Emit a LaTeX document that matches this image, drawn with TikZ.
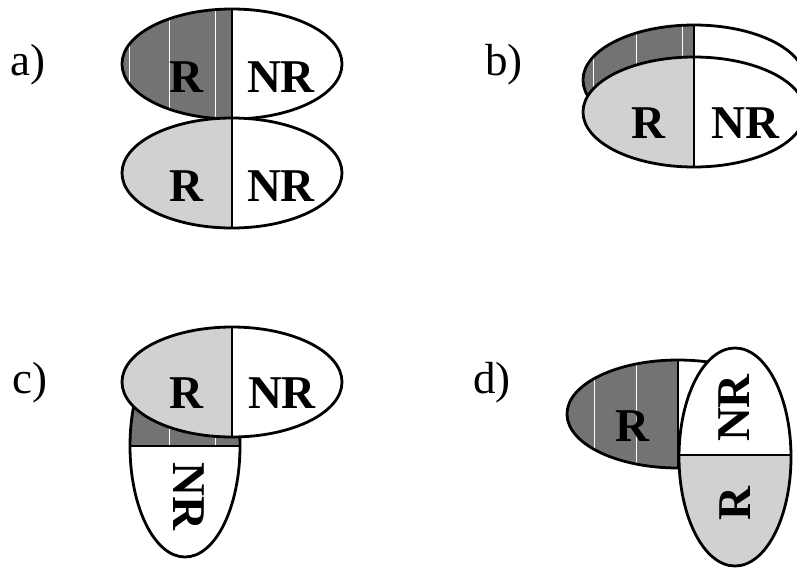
\documentclass[tikz,border=0pt]{standalone}
\usepackage{fontspec}
\setmainfont{Liberation Serif}
\tikzset{
  px/.style={x=1pt,y=-1pt},
  rim/.style={draw=black, line width=2.8pt},
  split/.style={draw=black, line width=1.2pt},
  darkfill/.style={fill=black!55},
  lightfill/.style={fill=black!18},
  streak/.style={draw=white, line width=0.9pt},
  big/.style={font=\fontsize{47}{47}\selectfont\bfseries, inner sep=0pt},
  tag/.style={font=\fontsize{45}{45}\selectfont, inner sep=0pt, anchor=base west},
}
\begin{document}
\begin{tikzpicture}[px]
\useasboundingbox (0,0) rectangle (797,568);
\clip (0,0) rectangle (797,568);

% ---------- a) two stacked rings ----------
\begin{scope}
  \clip (232,64) ellipse [x radius=110pt, y radius=55pt];
  \path[darkfill] (100,0) rectangle (232,130);
  \fill[white] (232,0) rectangle (360,130);
  \draw[streak] (129,0) -- (129,130) (169,0) -- (169,130) (215,0) -- (215,130);
\end{scope}
\draw[rim] (232,64) ellipse [x radius=110pt, y radius=55pt];
\begin{scope}
  \clip (232,173) ellipse [x radius=110pt, y radius=55pt];
  \path[lightfill] (100,110) rectangle (232,240);
  \fill[white] (232,110) rectangle (360,240);
\end{scope}
\draw[rim] (232,173) ellipse [x radius=110pt, y radius=55pt];
\draw[split] (232,8) -- (232,228);
\node[big] (aR1)  at (186,77)  {R};
\node[big] (aNR1) at (281,77)  {NR};
\node[big] (aR2)  at (186,186) {R};
\node[big] (aNR2) at (281,186) {NR};
\node[tag] (la) at (10,75) {a)};

% ---------- b) offset rings ----------
\begin{scope}
  \clip (694,80) ellipse [x radius=111pt, y radius=55pt];
  \path[darkfill] (570,20) rectangle (694,140);
  \fill[white] (694,20) rectangle (810,140);
  \draw[streak] (593,20) -- (593,140) (636,20) -- (636,140) (682,20) -- (682,140);
\end{scope}
\draw[rim] (694,80) ellipse [x radius=111pt, y radius=55pt];
\begin{scope}
  \clip (694,112) ellipse [x radius=111pt, y radius=55pt];
  \path[lightfill] (570,50) rectangle (694,170);
  \fill[white] (694,50) rectangle (810,170);
\end{scope}
\draw[rim] (694,112) ellipse [x radius=111pt, y radius=55pt];
\draw[split, line width=1.8pt] (694,24) -- (694,168);
\node[big] (bR)  at (648,123) {R};
\node[big] (bNR) at (745,123) {NR};
\node[tag] (lb) at (485,75) {b)};

% ---------- c) upright ring under a flat ring ----------
\begin{scope}
  \clip (185,446) ellipse [x radius=55pt, y radius=111pt];
  \path[darkfill] (120,330) rectangle (250,446);
  \fill[white] (120,446) rectangle (250,560);
  \draw[streak] (169,330) -- (169,446) (215,330) -- (215,446);
\end{scope}
\draw[rim] (185,446) ellipse [x radius=55pt, y radius=111pt];
\draw[split] (130,446) -- (240,446);
\begin{scope}
  \clip (232,382) ellipse [x radius=110pt, y radius=55pt];
  \path[lightfill] (110,320) rectangle (232,440);
  \fill[white] (232,320) rectangle (350,440);
\end{scope}
\draw[rim] (232,382) ellipse [x radius=110pt, y radius=55pt];
\draw[split] (232,326) -- (232,437);
\node[big] (cR)  at (186,393) {R};
\node[big] (cNR) at (282,393) {NR};
\node[big, rotate=-90] (cNRv) at (189,496) {NR};
\node[tag] (lc) at (12,393) {c)};

% ---------- d) flat ring behind an upright ring ----------
\begin{scope}
  \clip (540,340) rectangle (760,480);
  \begin{scope}
    \clip (678,414) ellipse [x radius=111pt, y radius=54pt];
    \path[darkfill] (560,355) rectangle (678,475);
    \fill[white] (678,355) rectangle (797,475);
    \draw[streak] (594,355) -- (594,475) (636,355) -- (636,475);
  \end{scope}
  \draw[rim] (678,414) ellipse [x radius=111pt, y radius=54pt];
\end{scope}
\draw[split, line width=1.6pt] (678,359) -- (678,468);
\begin{scope}
  \clip (735,457) ellipse [x radius=56pt, y radius=109pt];
  \fill[white] (670,340) rectangle (800,455);
  \path[lightfill] (670,455) rectangle (800,570);
  \draw[split, line width=1.8pt] (670,455) -- (800,455);
\end{scope}
\draw[rim] (735,457) ellipse [x radius=56pt, y radius=109pt];
\node[big] (dR) at (632,426) {R};
\node[big, rotate=90] (dNRv) at (734,408) {NR};
\node[big, rotate=90] (dRv)  at (735,504) {R};
\node[tag] (ld) at (473,393) {d)};
\end{tikzpicture}
\end{document}
